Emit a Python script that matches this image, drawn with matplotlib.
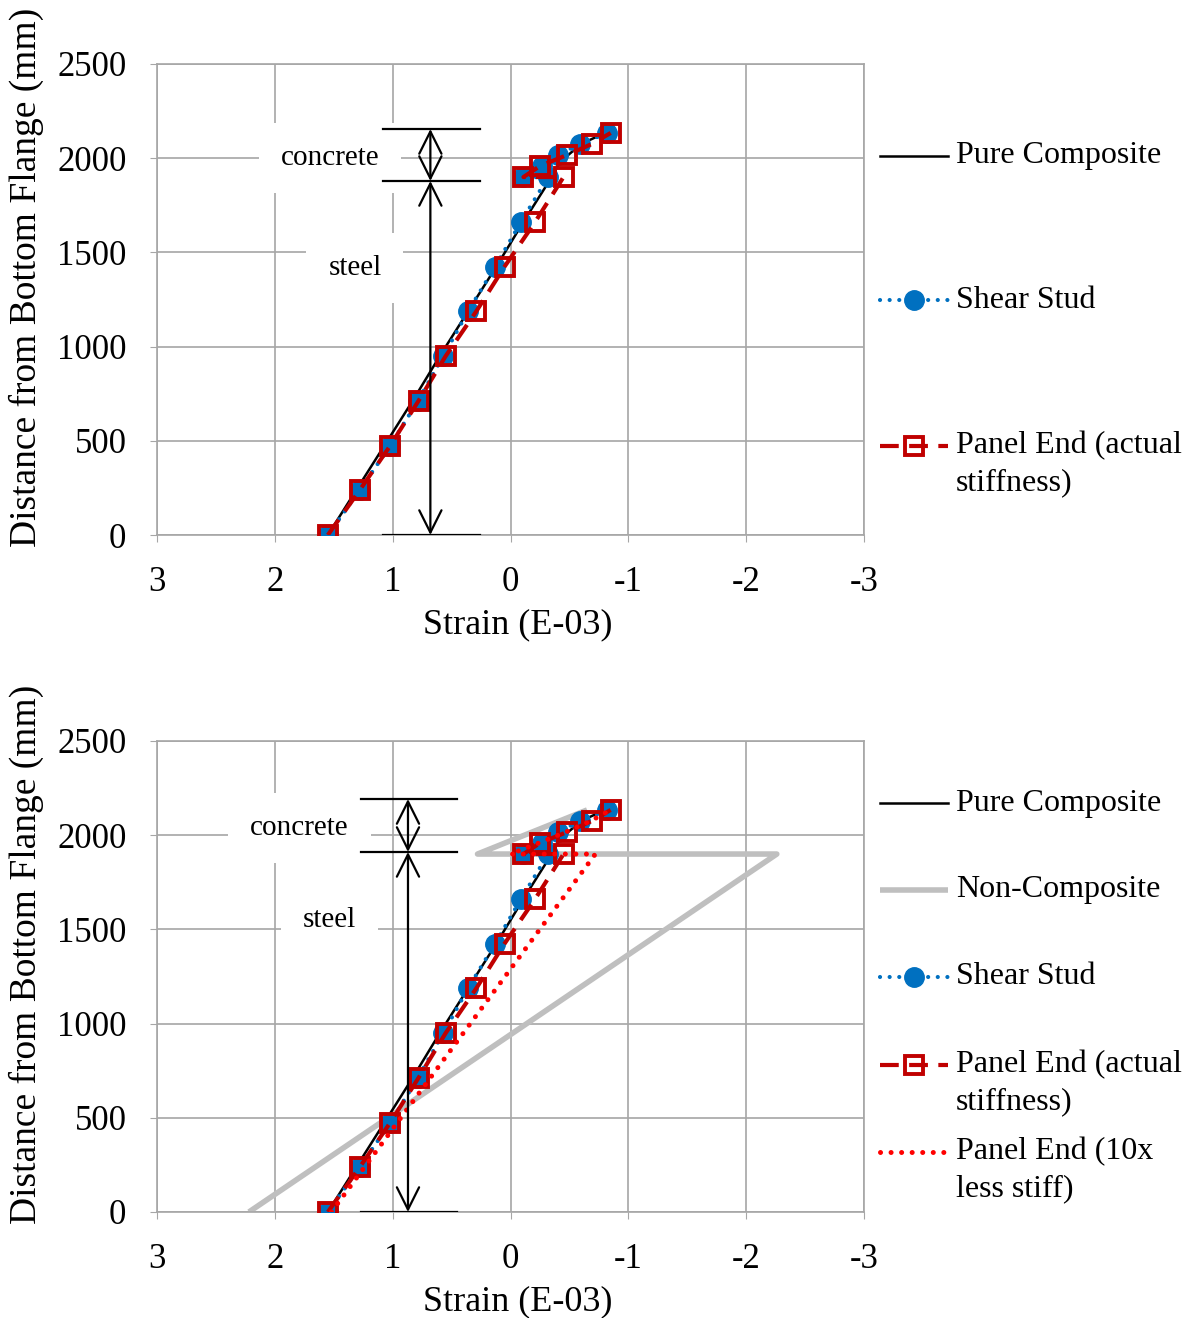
import matplotlib
matplotlib.use('Agg')
import matplotlib.pyplot as plt
from matplotlib.lines import Line2D

plt.rcParams['font.family'] = ['Liberation Serif', 'DejaVu Serif']
plt.rcParams['axes.unicode_minus'] = False

W, H = 1191, 1318

# heights (mm) of the gauge points: steel section then concrete slab
height = [0, 237.5, 475, 712.5, 950, 1187.5, 1425, 1662.5, 1900,
          1900, 1958.5, 2017, 2075.5, 2134]
pc_height = [0, 237.5, 475, 712.5, 950, 1187.5, 1425, 1662.5, 1900,
             1958.5, 2017, 2075.5, 2134]

# strains (E-03)
pure_composite = [1.55, 1.31, 1.07, 0.83, 0.60, 0.36, 0.12, -0.11, -0.35,
                  -0.40, -0.49, -0.60, -0.80]
shear_stud = [1.55, 1.28, 1.02, 0.785, 0.57, 0.36, 0.13, -0.09, -0.32,
              -0.11, -0.27, -0.40, -0.59, -0.82]
panel_end = [1.55, 1.28, 1.02, 0.78, 0.55, 0.29, 0.05, -0.21, -0.45,
             -0.11, -0.25, -0.48, -0.69, -0.85]

nc_height = [0, 1900, 1900, 2134]
non_composite = [2.22, -2.26, 0.28, -0.65]

soft_height = [0, 1900, 1900, 1958.5, 2017, 2075.5, 2134]
panel_end_soft = [1.52, -0.72, 0.0, -0.24, -0.47, -0.68, -0.85]

xticks = [3, 2, 1, 0, -1, -2, -3]
xticklabels = ['3', '2', '1', '0', '-1', '-2', '-3']
yticks = [0, 500, 1000, 1500, 2000, 2500]

GRID = '#a6a6a6'
BLUE = '#0070c0'
DRED = '#c00000'
RED = '#ff0000'
GREY = '#bfbfbf'

sty_pc = dict(color='black', lw=1.8)
sty_nc = dict(color=GREY, lw=4, solid_capstyle='butt')
sty_ss = dict(color=BLUE, lw=3, ls=(0, (0.01, 2.3)), dash_capstyle='round',
              marker='o', ms=14, mfc=BLUE, mec=BLUE)
sty_pe = dict(color=DRED, lw=3, ls=(0, (4.5, 2.5)), marker='s', ms=13,
              mfc='none', mec=DRED, mew=2.8)
sty_soft = dict(color=RED, lw=3.6, ls=(0, (0.01, 2.1)), dash_capstyle='round')

fig = plt.figure(figsize=(W / 100, H / 100), dpi=100)


def make_axes(top_px, bottom_px):
    ax = fig.add_axes([157 / W, 1 - bottom_px / H, 707 / W, (bottom_px - top_px) / H])
    ax.set_xlim(3, -3)
    ax.set_ylim(0, 2500)
    ax.set_xticks(xticks)
    ax.set_xticklabels(xticklabels)
    ax.set_yticks(yticks)
    ax.grid(True, color=GRID, lw=1.2)
    ax.set_axisbelow(True)
    for s in ax.spines.values():
        s.set_color(GRID)
        s.set_linewidth(1.2)
    ax.tick_params(direction='out', length=5, color=GRID, labelsize=25, pad=17)
    ax.set_xlabel('Strain (E-03)', fontsize=26)
    ax.set_ylabel('Distance from Bottom Flange (mm)', fontsize=27)
    ax.xaxis.set_label_coords(0.51, -0.155)
    ax.yaxis.set_label_coords(-0.160, 0.547)
    return ax


def dimension(ax, x0, x1, xm, y_top, y_mid, fs_pos):
    for y in (y_top, y_mid, 0):
        ax.plot([x0, x1], [y, y], color='black', lw=1.6, zorder=6)
    arr = dict(arrowstyle='<->,head_length=0.8,head_width=0.4', lw=1.6,
               color='black', mutation_scale=20, shrinkA=0, shrinkB=0)
    ax.annotate('', xy=(xm, y_top), xytext=(xm, y_mid), arrowprops=arr, zorder=6)
    ax.annotate('', xy=(xm, y_mid), xytext=(xm, 0), arrowprops=arr, zorder=6)
    box = dict(boxstyle='square,pad=0.75', fc='white', ec='none')
    (cx, cy), (sx, sy) = fs_pos
    ax.text(cx, cy, 'concrete', fontsize=21, ha='center', va='center', bbox=box, zorder=1.5)
    ax.text(sx, sy, 'steel', fontsize=21, ha='center', va='center', bbox=box, zorder=1.5)


def legend_entry(style, label_lines, y_px):
    x0, x1 = 880 / W, 948 / W
    y = 1 - y_px / H
    if 'marker' in style:
        ln = Line2D([x0, (x0 + x1) / 2, x1], [y, y, y], markevery=[1], **style)
    else:
        ln = Line2D([x0, x1], [y, y], **style)
    ln.set_transform(fig.transFigure)
    fig.add_artist(ln)
    for i, t in enumerate(label_lines):
        fig.text(956 / W, 1 - (y_px + 37 * i) / H, t, fontsize=23,
                 ha='left', va='center')


# ---------- top chart ----------
ax1 = make_axes(64, 535)
ax1.plot(pure_composite, pc_height, zorder=3, **sty_pc)
ax1.plot(shear_stud, height, zorder=4, **sty_ss)
ax1.plot(panel_end, height, zorder=5, **sty_pe)
dimension(ax1, 1.08, 0.26, 0.68, 2155, 1879,
          ((1.53, 2001), (1.32, 1417)))

legend_entry(sty_pc, ['Pure Composite'], 156)
legend_entry(sty_ss, ['Shear Stud'], 300)
legend_entry(sty_pe, ['Panel End (actual', 'stiffness)'], 446)

# ---------- bottom chart ----------
ax2 = make_axes(741, 1212)
ax2.plot(pure_composite, pc_height, zorder=3, **sty_pc)
ax2.plot(non_composite, nc_height, zorder=2, **sty_nc)
ax2.plot(shear_stud, height, zorder=4, **sty_ss)
ax2.plot(panel_end, height, zorder=5, **sty_pe)
ax2.plot(panel_end_soft, soft_height, zorder=5.5, **sty_soft)
dimension(ax2, 1.27, 0.45, 0.87, 2192, 1911,
          ((1.79, 2038), (1.54, 1550)))

legend_entry(sty_pc, ['Pure Composite'], 803)
legend_entry(sty_nc, ['Non-Composite'], 890)
legend_entry(sty_ss, ['Shear Stud'], 977)
legend_entry(sty_pe, ['Panel End (actual', 'stiffness)'], 1065)
legend_entry(sty_soft, ['Panel End (10x', 'less stiff)'], 1152)

fig.savefig('out.png', dpi=100)
